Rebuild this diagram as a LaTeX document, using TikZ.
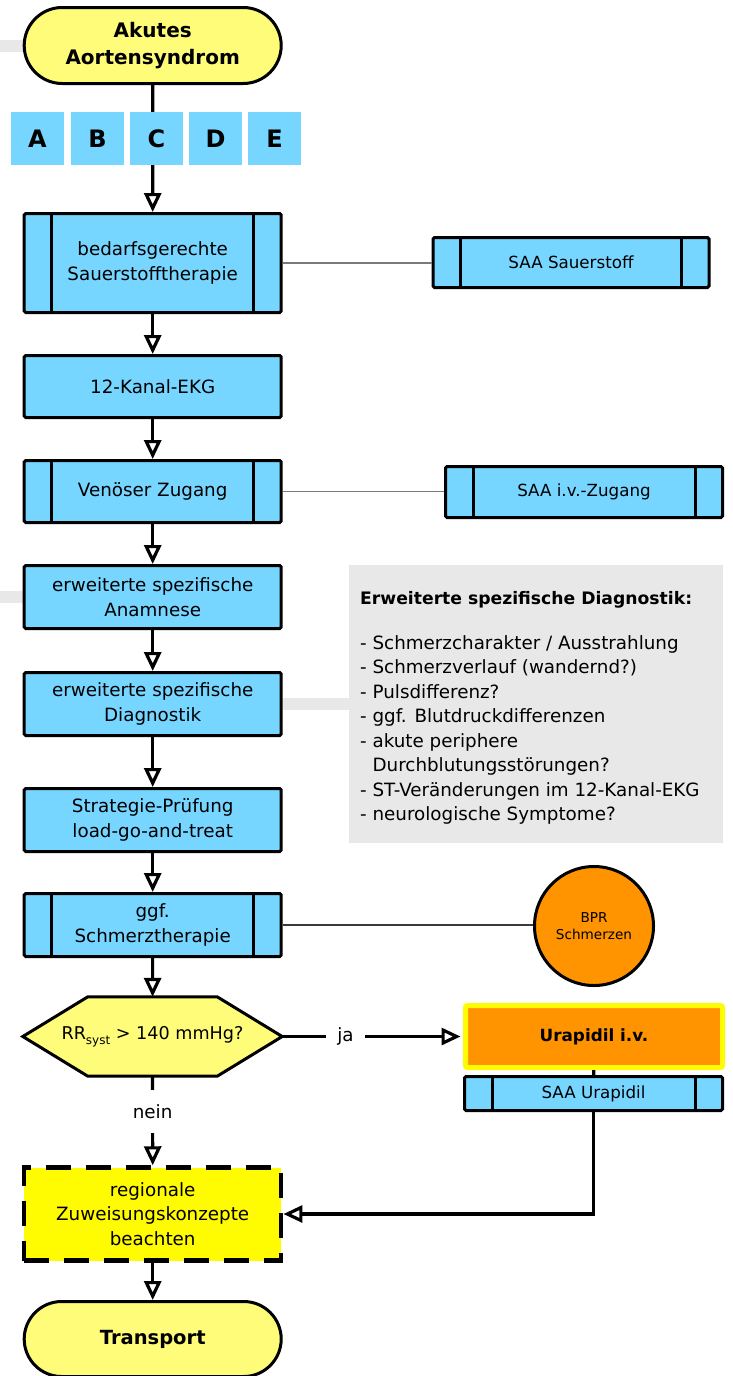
\documentclass[tikz,border=0pt]{standalone}
\usepackage{fontspec}
\setmainfont{DejaVu Sans}
\usetikzlibrary{arrows.meta,shapes.misc,calc}

\definecolor{sky}{HTML}{76D6FF}
\definecolor{banana}{HTML}{FFFC79}
\definecolor{lemon}{HTML}{FFFB00}
\definecolor{tangerine}{HTML}{FF9300}
\definecolor{panel}{HTML}{E8E8E8}
\definecolor{linkgray}{HTML}{7A7A7A}
\definecolor{linkdark}{HTML}{3A3A3A}

\pgfdeclarelayer{background}
\pgfsetlayers{background,main}

\newcommand\fsz[2]{\fontsize{#1}{#2}\selectfont}

\tikzset{
  boxbase/.style={draw=black, line width=3pt, align=center, inner sep=0pt,
    font=\fsz{18.3}{24.5}},
  terminal/.style={boxbase, rounded rectangle, fill=banana,
    minimum width=257pt, minimum height=76pt, font=\fsz{20}{26.7}\bfseries},
  proc/.style={boxbase, rounded corners=1.5pt, fill=sky, minimum width=257pt},
  sidebars/.style={path picture={
      \draw[line width=3pt]
        ([xshift=#1]path picture bounding box.north west) --
        ([xshift=#1]path picture bounding box.south west);
      \draw[line width=3pt]
        ([xshift=-#1]path picture bounding box.north east) --
        ([xshift=-#1]path picture bounding box.south east);}},
  predef/.style={proc, sidebars=27.5pt},
  saa/.style={predef, font=\fsz{16.7}{20}},
  abc/.style={fill=sky, minimum size=53pt, inner sep=0pt, font=\fsz{24}{24}\bfseries},
  decision/.style={inner sep=0pt, minimum width=259pt, minimum height=79pt,
    font=\fsz{17.6}{24}},
  hexagon/.style={draw=black, fill=banana, line width=3pt},
  dashbox/.style={boxbase, fill=lemon, line width=4.5pt,
    dash pattern=on 25pt off 15pt, minimum width=257pt, minimum height=93pt},
  flow/.style={line width=3.2pt, -{Triangle[length=19pt,width=17pt,fill=white]}},
  plain/.style={line width=3.2pt},
  thinlink/.style={line width=1.3pt, draw=linkgray},
  darklink/.style={line width=1.2pt, draw=linkdark},
  band/.style={line width=12pt, draw=panel},
  gaplabel/.style={fill=white, inner sep=0pt, font=\fsz{18.3}{24.5}}
}

\begin{document}
\begin{tikzpicture}[x=1pt, y=-1pt]
  \useasboundingbox (0,0) rectangle (733,1376);

  % main column
  \node[terminal] (start) at (152.7,45.5) {Akutes\\Aortensyndrom};
  \node[predef, minimum height=99pt] (o2) at (152.7,263) {bedarfsgerechte\\Sauerstofftherapie};
  \node[proc, minimum height=62pt] (ekg) at (152.7,386.5) {12-Kanal-EKG};
  \node[predef, minimum height=62pt] (ivz) at (152.7,491.5) {Venöser Zugang};
  \node[proc, minimum height=63pt] (anam) at (152.7,597) {erweiterte spezifische\\Anamnese};
  \node[proc, minimum height=63pt] (diag) at (152.7,704) {erweiterte spezifische\\Diagnostik};
  \node[proc, minimum height=63pt] (strat) at (152.7,820) {Strategie-Prüfung\\load-go-and-treat};
  \node[predef, minimum height=63pt] (pain) at (152.7,925) {ggf.\\Schmerztherapie};
  \node[decision] (rr) at (152.5,1036.5)
    {RR\raisebox{-5pt}{\fsz{12}{12}\selectfont syst} > 140 mmHg?};
  \node[dashbox] (region) at (152.7,1214) {regionale\\Zuweisungskonzepte\\beachten};
  \node[terminal, minimum height=75pt, font=\fsz{19.5}{24}\bfseries] (transport) at (152.7,1339) {Transport};

  % side column
  \node[saa, minimum width=276pt, minimum height=50pt] (saao2) at (571,262.5) {SAA Sauerstoff};
  \node[saa, minimum width=277pt, minimum height=51pt] (saaiv) at (584,492) {SAA i.v.-Zugang};
  \node[fill=panel, minimum width=374pt, minimum height=278pt, inner sep=0pt] (panel) at (536,704) {};
  \node[anchor=north west, align=left, inner sep=0pt, font=\fsz{18.3}{24.5}] (diagtext) at (360,591)
    {{\fsz{17.2}{24.5}\bfseries Erweiterte spezifische Diagnostik:}\\[20.5pt]
     - Schmerzcharakter / Ausstrahlung\\
     - Schmerzverlauf (wandernd?)\\
     - Pulsdifferenz?\\
     - ggf. Blutdruckdifferenzen\\
     - akute periphere\\
     \phantom{- }Durchblutungsstörungen?\\
     - ST-Veränderungen im 12-Kanal-EKG\\
     - neurologische Symptome?};
  \node[circle, draw=black, line width=3pt, fill=tangerine, minimum size=119pt,
    inner sep=0pt, align=center, font=\fsz{13.6}{16.7}] (bpr) at (594,926) {BPR\\Schmerzen};
  \node[draw=lemon, line width=5pt, fill=tangerine, rounded corners=2pt,
    minimum width=257pt, minimum height=62pt, inner sep=0pt,
    font=\fsz{16.8}{20}\bfseries] (ura) at (594,1036.5) {Urapidil i.v.};
  \node[saa, minimum width=258pt, minimum height=34pt] (saaura) at (593.5,1093.5) {SAA Urapidil};

  % decision outline and grey bands behind the nodes
  \begin{pgfonlayer}{background}
    \draw[hexagon] (rr.west) -- ([xshift=65pt]rr.north west) -- ([xshift=-65pt]rr.north east)
      -- (rr.east) -- ([xshift=-65pt]rr.south east) -- ([xshift=65pt]rr.south west) -- cycle;
    \coordinate (edgeA) at (0,45.5);
    \coordinate (edgeB) at (0,597);
    \draw[band] (edgeA) -- (start.west);
    \draw[band] (edgeB) -- (anam.west);
    \draw[band] (diag.east) -- (diag.east -| panel.west);
  \end{pgfonlayer}

  % flow connectors
  \draw[flow] (start) -- (o2);
  \foreach \l/\x in {A/37.5,B/97.5,C/156.5,D/215.5,E/274.5}
    \node[abc] (abc\l) at (\x,138.5) {\l};
  \draw[flow] (o2) -- (ekg);
  \draw[flow] (ekg) -- (ivz);
  \draw[flow] (ivz) -- (anam);
  \draw[flow] (anam) -- (diag);
  \draw[flow] (diag) -- (strat);
  \draw[flow] (strat) -- (pain);
  \draw[flow] (pain) -- (rr);
  \draw[flow] (rr.south) -- node[gaplabel, pos=0.40, minimum height=43pt] {nein} (region.north);
  \draw[flow, shorten >=2.5pt] (rr.east) -- node[gaplabel, pos=0.35, minimum width=39pt] {ja} (ura.west);
  \draw[plain] (ura) -- (saaura);
  \draw[flow] (saaura.south) |- (region.east);
  \draw[flow] (region) -- (transport);

  % links to the side references
  \draw[thinlink] (o2.east) -- (o2.east -| saao2.west);
  \draw[thinlink] (ivz.east) -- (ivz.east -| saaiv.west);
  \draw[darklink] (pain.east) -- (pain.east -| bpr.west);
\end{tikzpicture}
\end{document}
